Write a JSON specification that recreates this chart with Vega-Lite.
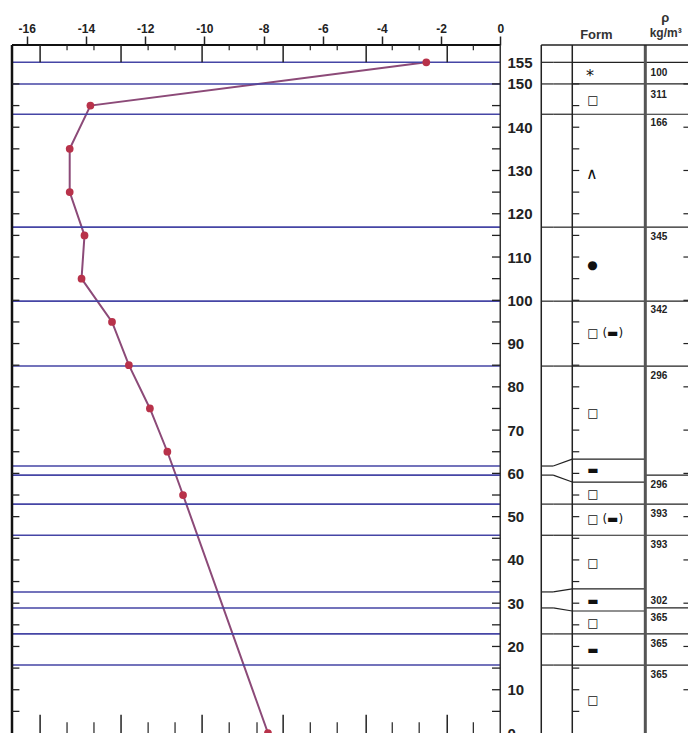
{
  "$schema": "https://vega.github.io/schema/vega-lite/v6.json",
  "width": 688,
  "height": 688,
  "autosize": {"type": "none"},
  "padding": {"left": 12, "top": 45, "right": 0, "bottom": 0},
  "background": "white",
  "config": {"view": {"stroke": null}, "font": "Liberation Sans"},
  "datasets": {
    "temps": [
      {"height": 155, "temp": -2.5},
      {"height": 145, "temp": -13.85},
      {"height": 135, "temp": -14.55},
      {"height": 125, "temp": -14.55},
      {"height": 115, "temp": -14.05},
      {"height": 105, "temp": -14.15},
      {"height": 95, "temp": -13.12},
      {"height": 85, "temp": -12.55},
      {"height": 75, "temp": -11.84},
      {"height": 65, "temp": -11.25},
      {"height": 55, "temp": -10.72},
      {"height": 0, "temp": -7.85}
    ],
    "bounds": [
      {"plot_h": 155, "form_h": 155, "dens_h": 155},
      {"plot_h": 150, "form_h": 150, "dens_h": 150},
      {"plot_h": 143, "form_h": 143, "dens_h": 143},
      {"plot_h": 116.9, "form_h": 116.9, "dens_h": 116.9},
      {"plot_h": 99.8, "form_h": 99.8, "dens_h": 99.8},
      {"plot_h": 84.8, "form_h": 84.8, "dens_h": 84.8},
      {"plot_h": 61.7, "form_h": 63.3, "dens_h": null},
      {"plot_h": 59.6, "form_h": 58.0, "dens_h": 59.6},
      {"plot_h": 52.9, "form_h": 52.9, "dens_h": 52.9},
      {"plot_h": 45.7, "form_h": 45.7, "dens_h": 45.7},
      {"plot_h": 32.6, "form_h": 33.3, "dens_h": null},
      {"plot_h": 28.9, "form_h": 28.2, "dens_h": 28.9},
      {"plot_h": 22.9, "form_h": 22.9, "dens_h": 22.9},
      {"plot_h": 15.7, "form_h": 15.7, "dens_h": 15.7}
    ],
    "forms": [
      {"h": 152.2, "form": "*"},
      {"h": 146.3, "form": "□"},
      {"h": 129.7, "form": "∧"},
      {"h": 108.2, "form": "●"},
      {"h": 92.4, "form": "□ (▬)"},
      {"h": 74.0, "form": "□"},
      {"h": 60.8, "form": "▬"},
      {"h": 55.2, "form": "□"},
      {"h": 49.5, "form": "□ (▬)"},
      {"h": 39.3, "form": "□"},
      {"h": 30.5, "form": "▬"},
      {"h": 25.4, "form": "□"},
      {"h": 19.2, "form": "▬"},
      {"h": 7.6, "form": "□"}
    ],
    "dens": [
      {"h": 152.5, "rho": 100},
      {"h": 147.4, "rho": 311},
      {"h": 141.0, "rho": 166},
      {"h": 114.6, "rho": 345},
      {"h": 97.8, "rho": 342},
      {"h": 82.5, "rho": 296},
      {"h": 57.3, "rho": 296},
      {"h": 50.6, "rho": 393},
      {"h": 43.4, "rho": 393},
      {"h": 30.5, "rho": 302},
      {"h": 26.6, "rho": 365},
      {"h": 20.6, "rho": 365},
      {"h": 13.4, "rho": 365}
    ],
    "hardMajor": [{"t": -15.55}, {"t": -12.815}, {"t": -10.076}, {"t": -7.337}, {"t": -4.531}, {"t": -1.792}],
    "hardMinor": [{"t": -14.64}, {"t": -13.73}, {"t": -11.9}, {"t": -10.99}, {"t": -9.16}, {"t": -8.22}, {"t": -6.42}, {"t": -5.51}, {"t": -3.65}, {"t": -2.74}, {"t": -0.91}],
    "ticks5": [{"h": 5}, {"h": 10}, {"h": 15}, {"h": 20}, {"h": 25}, {"h": 30}, {"h": 35}, {"h": 40}, {"h": 45}, {"h": 50}, {"h": 55}, {"h": 60}, {"h": 65}, {"h": 70}, {"h": 75}, {"h": 80}, {"h": 85}, {"h": 90}, {"h": 95}, {"h": 100}, {"h": 105}, {"h": 110}, {"h": 115}, {"h": 120}, {"h": 125}, {"h": 130}, {"h": 135}, {"h": 140}, {"h": 145}, {"h": 150}],
    "ticks10": [{"h": 10}, {"h": 20}, {"h": 30}, {"h": 40}, {"h": 50}, {"h": 60}, {"h": 70}, {"h": 80}, {"h": 90}, {"h": 100}, {"h": 110}, {"h": 120}, {"h": 130}, {"h": 140}, {"h": 150}]
  },
  "layer": [
    {
      "data": {"name": "temps"},
      "mark": {"type": "line", "color": "#8c4a78", "strokeWidth": 2},
      "encoding": {
        "x": {"field": "temp", "type": "quantitative",
          "scale": {"domain": [-16.5, 6.75], "nice": false, "zero": false},
          "axis": {"orient": "top", "values": [-16, -14, -12, -10, -8, -6, -4, -2, 0], "title": null, "domain": false, "grid": false,
            "tickSize": 9, "tickColor": "#222", "tickWidth": 1.5, "labelFont": "Liberation Sans", "labelFontWeight": "bold", "labelFontSize": 12,
            "labelColor": "#222", "labelPadding": 1, "labelFlush": false, "labelExpr": "'' + datum.value"}},
        "y": {"field": "height", "type": "quantitative",
          "scale": {"domain": [0, 159], "nice": false, "zero": false},
          "axis": {"orient": "right", "offset": -200, "values": [0, 10, 20, 30, 40, 50, 60, 70, 80, 90, 100, 110, 120, 130, 140, 150, 155],
            "title": null, "domain": false, "grid": false, "ticks": false, "labelPadding": 7, "labelFont": "Liberation Sans",
            "labelFontWeight": "bold", "labelFontSize": 15, "labelColor": "#222", "labelFlush": false, "labelOverlap": false}},
        "order": {"field": "height", "type": "quantitative"}
      }
    },
    {
      "data": {"name": "bounds"},
      "mark": {"type": "rule", "color": "#4545a5", "strokeWidth": 1.6},
      "encoding": {
        "x": {"datum": -16.5, "type": "quantitative"},
        "x2": {"datum": 0},
        "y": {"field": "plot_h", "type": "quantitative"}
      }
    },
    {
      "data": {"name": "bounds"},
      "mark": {"type": "rule", "color": "#222", "strokeWidth": 1.2},
      "encoding": {
        "x": {"datum": 1.386, "type": "quantitative"},
        "x2": {"datum": 1.79},
        "y": {"field": "plot_h", "type": "quantitative"}
      }
    },
    {
      "data": {"name": "bounds"},
      "mark": {"type": "rule", "color": "#222", "strokeWidth": 1.2},
      "encoding": {
        "x": {"datum": 1.79, "type": "quantitative"},
        "x2": {"datum": 2.434},
        "y": {"field": "plot_h", "type": "quantitative"},
        "y2": {"field": "form_h"}
      }
    },
    {
      "data": {"name": "bounds"},
      "mark": {"type": "rule", "color": "#222", "strokeWidth": 1.2},
      "encoding": {
        "x": {"datum": 2.434, "type": "quantitative"},
        "x2": {"datum": 4.902},
        "y": {"field": "form_h", "type": "quantitative"}
      }
    },
    {
      "data": {"name": "bounds"},
      "transform": [{"filter": "datum.dens_h != null"}],
      "mark": {"type": "rule", "color": "#222", "strokeWidth": 1.2},
      "encoding": {
        "x": {"datum": 4.902, "type": "quantitative"},
        "x2": {"datum": 6.75},
        "y": {"field": "dens_h", "type": "quantitative"}
      }
    },
    {
      "data": {"values": [{}]},
      "mark": {"type": "rule", "color": "#111", "strokeWidth": 2.5},
      "encoding": {"x": {"datum": -16.5, "type": "quantitative"}, "y": {"datum": 0, "type": "quantitative"}, "y2": {"datum": 159}}
    },
    {
      "data": {"values": [{}]},
      "mark": {"type": "rule", "color": "#111", "strokeWidth": 2},
      "encoding": {"x": {"datum": -16.5, "type": "quantitative"}, "x2": {"datum": 0}, "y": {"datum": 159, "type": "quantitative"}}
    },
    {
      "data": {"values": [{}]},
      "mark": {"type": "rule", "color": "#333", "strokeWidth": 1.5},
      "encoding": {"x": {"datum": 0, "type": "quantitative"}, "y": {"datum": 0, "type": "quantitative"}, "y2": {"datum": 159}}
    },
    {
      "data": {"values": [{}]},
      "mark": {"type": "rule", "color": "#222", "strokeWidth": 1.5},
      "encoding": {"x": {"datum": 1.386, "type": "quantitative"}, "y": {"datum": 0, "type": "quantitative"}, "y2": {"datum": 159}}
    },
    {
      "data": {"values": [{}]},
      "mark": {"type": "rule", "color": "#222", "strokeWidth": 1.5},
      "encoding": {"x": {"datum": 2.434, "type": "quantitative"}, "y": {"datum": 0, "type": "quantitative"}, "y2": {"datum": 159}}
    },
    {
      "data": {"values": [{}]},
      "mark": {"type": "rule", "color": "#555", "strokeWidth": 3},
      "encoding": {"x": {"datum": 4.902, "type": "quantitative"}, "y": {"datum": 0, "type": "quantitative"}, "y2": {"datum": 159}}
    },
    {
      "data": {"values": [{}]},
      "mark": {"type": "rule", "color": "#222", "strokeWidth": 1.5},
      "encoding": {"x": {"datum": 1.386, "type": "quantitative"}, "x2": {"datum": 6.75}, "y": {"datum": 159, "type": "quantitative"}}
    },
    {
      "data": {"name": "hardMajor"},
      "mark": {"type": "rule", "color": "#222", "strokeWidth": 1.5},
      "encoding": {"x": {"field": "t", "type": "quantitative"}, "y": {"datum": 155, "type": "quantitative"}, "y2": {"datum": 159}}
    },
    {
      "data": {"name": "hardMinor"},
      "mark": {"type": "rule", "color": "#222", "strokeWidth": 1.2},
      "encoding": {"x": {"field": "t", "type": "quantitative"}, "y": {"datum": 157.8, "type": "quantitative"}, "y2": {"datum": 159}}
    },
    {
      "data": {"name": "hardMajor"},
      "mark": {"type": "rule", "color": "#222", "strokeWidth": 1.5},
      "encoding": {"x": {"field": "t", "type": "quantitative"}, "y": {"datum": 0, "type": "quantitative"}, "y2": {"datum": 4.2}}
    },
    {
      "data": {"name": "hardMinor"},
      "mark": {"type": "rule", "color": "#222", "strokeWidth": 1.2},
      "encoding": {"x": {"field": "t", "type": "quantitative"}, "y": {"datum": 0, "type": "quantitative"}, "y2": {"datum": 2.5}}
    },
    {
      "data": {"name": "ticks5"},
      "mark": {"type": "rule", "color": "#222", "strokeWidth": 1.3},
      "encoding": {"x": {"datum": -16.5, "type": "quantitative"}, "x2": {"datum": -16.25}, "y": {"field": "h", "type": "quantitative"}}
    },
    {
      "data": {"name": "ticks5"},
      "mark": {"type": "rule", "color": "#222", "strokeWidth": 1.3},
      "encoding": {"x": {"datum": -0.28, "type": "quantitative"}, "x2": {"datum": 0}, "y": {"field": "h", "type": "quantitative"}}
    },
    {
      "data": {"name": "ticks5"},
      "mark": {"type": "rule", "color": "#222", "strokeWidth": 1.2},
      "encoding": {"x": {"datum": 2.434, "type": "quantitative"}, "x2": {"datum": 2.67}, "y": {"field": "h", "type": "quantitative"}}
    },
    {
      "data": {"name": "ticks10"},
      "mark": {"type": "rule", "color": "#222", "strokeWidth": 1.2},
      "encoding": {"x": {"datum": 6.19, "type": "quantitative"}, "x2": {"datum": 6.45}, "y": {"field": "h", "type": "quantitative"}}
    },
    {
      "data": {"name": "temps"},
      "mark": {"type": "circle", "color": "#b8324a", "size": 60, "opacity": 1},
      "encoding": {
        "x": {"field": "temp", "type": "quantitative"},
        "y": {"field": "height", "type": "quantitative"}
      }
    },
    {
      "data": {"name": "forms"},
      "transform": [{"filter": "datum.form != '*' && datum.form != '∧'"}],
      "mark": {"type": "text", "align": "left", "baseline": "middle", "font": "DejaVu Sans", "fontSize": 12, "color": "#111"},
      "encoding": {
        "x": {"datum": 2.94, "type": "quantitative"},
        "y": {"field": "h", "type": "quantitative"},
        "text": {"field": "form"}
      }
    },
    {
      "data": {"name": "forms"},
      "transform": [{"filter": "datum.form == '*' || datum.form == '∧'"}],
      "mark": {"type": "text", "align": "left", "baseline": "middle", "dy": 2, "font": "DejaVu Sans", "fontSize": 16, "color": "#111"},
      "encoding": {
        "x": {"datum": 2.9, "type": "quantitative"},
        "y": {"field": "h", "type": "quantitative"},
        "text": {"field": "form"}
      }
    },
    {
      "data": {"name": "dens"},
      "mark": {"type": "text", "align": "left", "baseline": "middle", "font": "Liberation Sans", "fontWeight": "bold", "fontSize": 10, "color": "#222"},
      "encoding": {
        "x": {"datum": 5.08, "type": "quantitative"},
        "y": {"field": "h", "type": "quantitative"},
        "text": {"field": "rho"}
      }
    },
    {
      "data": {"values": [{"label": "Form"}]},
      "mark": {"type": "text", "align": "center", "baseline": "middle", "font": "Liberation Sans", "fontWeight": "bold", "fontSize": 13, "color": "#333"},
      "encoding": {"x": {"datum": 3.25, "type": "quantitative"}, "y": {"datum": 161.3, "type": "quantitative"}, "text": {"field": "label"}}
    },
    {
      "data": {"values": [{"label": "ρ"}]},
      "mark": {"type": "text", "align": "center", "baseline": "middle", "font": "Liberation Sans", "fontWeight": "bold", "fontSize": 13, "color": "#333"},
      "encoding": {"x": {"datum": 5.58, "type": "quantitative"}, "y": {"datum": 165.3, "type": "quantitative"}, "text": {"field": "label"}}
    },
    {
      "data": {"values": [{"label": "kg/m³"}]},
      "mark": {"type": "text", "align": "left", "baseline": "middle", "font": "Liberation Sans", "fontWeight": "bold", "fontSize": 12, "color": "#333"},
      "encoding": {"x": {"datum": 5.05, "type": "quantitative"}, "y": {"datum": 161.7, "type": "quantitative"}, "text": {"field": "label"}}
    }
  ]
}
